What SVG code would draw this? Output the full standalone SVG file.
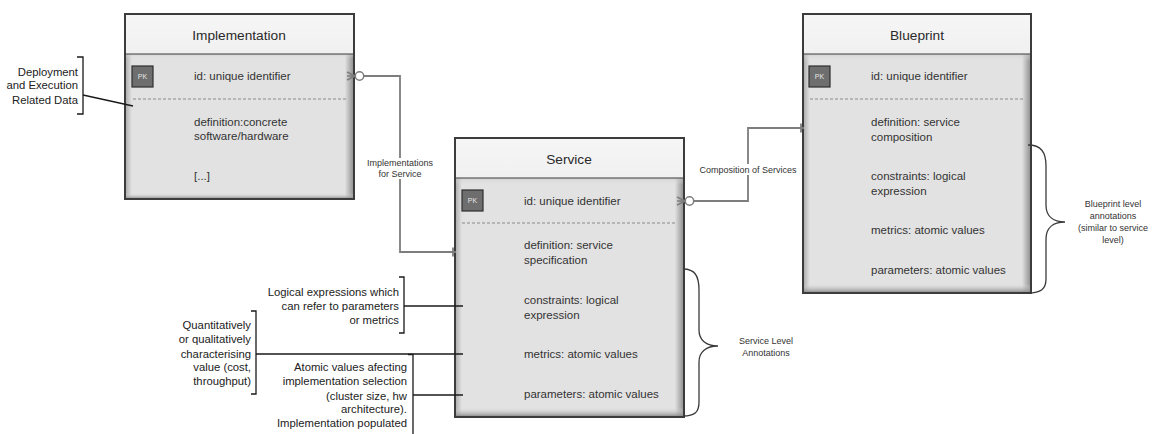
<svg xmlns="http://www.w3.org/2000/svg" width="1154" height="434" viewBox="0 0 1154 434">
  <style>
    .hdr { fill: url(#hdrGrad); }
    .body { fill: url(#bodyH); }
    .bodyV { fill: url(#bodyV); }
    .frame { fill: none; stroke: #3c3c3c; stroke-width: 2; }
    .sep { stroke: #3c3c3c; stroke-width: 1.2; }
    .dash { stroke: #8a8a8a; stroke-width: 1; stroke-dasharray: 3 2; }
    .title { font-family: "Liberation Sans", Arial, sans-serif; font-size: 13.7px; fill: #2a2a2a; text-anchor: middle; }
    .attr { font-family: "Liberation Sans", Arial, sans-serif; font-size: 11.5px; fill: #333; }
    .pk rect { fill: #6e6e6e; stroke: #2e2e2e; stroke-width: 1.2; }
    .pk text { font-family: "Liberation Sans", Arial, sans-serif; font-size: 7px; fill: #e6e6e6; text-anchor: middle; }
    .conn { fill: none; stroke: #7d7d7d; stroke-width: 1.8; }
    .clabel { font-family: "Liberation Sans", Arial, sans-serif; font-size: 9px; fill: #333; text-anchor: middle; }
    .note { font-family: "Liberation Sans", Arial, sans-serif; font-size: 11.3px; fill: #222; text-anchor: end; }
    .bracket { fill: none; stroke: #1a1a1a; stroke-width: 1.3; }
    .brace { fill: none; stroke: #3a3a3a; stroke-width: 1.3; }
    .blabel { font-family: "Liberation Sans", Arial, sans-serif; font-size: 9px; fill: #333; text-anchor: middle; }
  </style>
  <defs>
    <linearGradient id="hdrGrad" x1="0" y1="0" x2="0" y2="1">
      <stop offset="0" stop-color="#f6f6f6"/>
      <stop offset="1" stop-color="#f0f0f0"/>
    </linearGradient>
    <linearGradient id="bodyH" x1="0" y1="0" x2="1" y2="0">
      <stop offset="0" stop-color="#a8a8a8"/>
      <stop offset="0.03" stop-color="#e2e2e2"/>
      <stop offset="0.96" stop-color="#e2e2e2"/>
      <stop offset="1" stop-color="#8c8c8c"/>
    </linearGradient>
    <linearGradient id="bodyV" x1="0" y1="0" x2="0" y2="1">
      <stop offset="0" stop-color="#c8c8c8" stop-opacity="0.6"/>
      <stop offset="0.03" stop-color="#e2e2e2" stop-opacity="0"/>
      <stop offset="0.96" stop-color="#e2e2e2" stop-opacity="0"/>
      <stop offset="1" stop-color="#808080" stop-opacity="1"/>
    </linearGradient>
    <g id="crowO">
      <!-- zero-or-many end: prongs at the entity, circle beyond -->
      <path d="M0,-4 L8,0 M0,0 L8,0 M0,4 L8,0" fill="none" stroke="#7d7d7d" stroke-width="1.5"/>
      <circle cx="12.5" cy="0" r="4.2" fill="#fff" stroke="#7d7d7d" stroke-width="1.5"/>
    </g>
  </defs>

  <!-- Implementation entity -->
  <g id="implementation">
    <rect class="body" x="125" y="54" width="229" height="145"/>
    <rect class="bodyV" x="125" y="54" width="229" height="145"/>
    <rect class="hdr" x="125" y="14" width="229" height="40"/>
    <line class="sep" x1="125" y1="54" x2="354" y2="54"/>
    <rect class="frame" x="125" y="14" width="229" height="185"/>
    <text class="title" x="239" y="40">Implementation</text>
    <g class="pk"><rect x="132" y="66" width="21" height="21"/><text x="142.5" y="79">PK</text></g>
    <text class="attr" x="194" y="80">id: unique identifier</text>
    <line class="dash" x1="133" y1="99" x2="347" y2="99"/>
    <text class="attr" x="194" y="126">definition:concrete</text>
    <text class="attr" x="194" y="140">software/hardware</text>
    <text class="attr" x="194" y="180">[...]</text>
  </g>

  <!-- Service entity -->
  <g id="service">
    <rect class="body" x="455" y="178" width="229" height="239"/>
    <rect class="bodyV" x="455" y="178" width="229" height="239"/>
    <rect class="hdr" x="455" y="138" width="229" height="40"/>
    <line class="sep" x1="455" y1="178" x2="684" y2="178"/>
    <rect class="frame" x="455" y="138" width="229" height="279"/>
    <text class="title" x="569" y="164">Service</text>
    <g class="pk"><rect x="462" y="190" width="21" height="21"/><text x="472.5" y="203">PK</text></g>
    <text class="attr" x="524" y="205">id: unique identifier</text>
    <line class="dash" x1="462" y1="223" x2="677" y2="223"/>
    <text class="attr" x="524" y="249">definition: service</text>
    <text class="attr" x="524" y="264">specification</text>
    <text class="attr" x="524" y="304">constraints: logical</text>
    <text class="attr" x="524" y="319">expression</text>
    <text class="attr" x="524" y="358">metrics: atomic values</text>
    <text class="attr" x="524" y="398">parameters: atomic values</text>
  </g>

  <!-- Blueprint entity -->
  <g id="blueprint">
    <rect class="body" x="803" y="54" width="228" height="239"/>
    <rect class="bodyV" x="803" y="54" width="228" height="239"/>
    <rect class="hdr" x="803" y="14" width="228" height="40"/>
    <line class="sep" x1="803" y1="54" x2="1031" y2="54"/>
    <rect class="frame" x="803" y="14" width="228" height="279"/>
    <text class="title" x="917" y="40">Blueprint</text>
    <g class="pk"><rect x="809" y="66" width="21" height="21"/><text x="819.5" y="79">PK</text></g>
    <text class="attr" x="871" y="80">id: unique identifier</text>
    <line class="dash" x1="810" y1="99" x2="1024" y2="99"/>
    <text class="attr" x="871" y="126">definition: service</text>
    <text class="attr" x="871" y="141">composition</text>
    <text class="attr" x="871" y="180">constraints: logical</text>
    <text class="attr" x="871" y="195">expression</text>
    <text class="attr" x="871" y="234">metrics: atomic values</text>
    <text class="attr" x="871" y="274">parameters: atomic values</text>
  </g>

  <!-- Relationships between entities -->
  <g id="connectors">
    <!-- Implementation (many) to Service (one) -->
    <polyline class="conn" points="364,76 400,76 400,252 456,252"/>
    <use href="#crowO" x="347" y="76"/>
    <line x1="453" y1="247.5" x2="453" y2="256.5" stroke="#7d7d7d" stroke-width="1.8"/>
    <rect x="365" y="158" width="70" height="21" fill="#fff"/>
    <text class="clabel" x="400" y="166">Implementations</text>
    <text class="clabel" x="400" y="177">for Service</text>

    <!-- Service (many) to Blueprint (one) -->
    <polyline class="conn" points="694,201 748,201 748,128 804,128"/>
    <use href="#crowO" x="677" y="201"/>
    <line x1="801" y1="123.5" x2="801" y2="132.5" stroke="#7d7d7d" stroke-width="1.8"/>
    <rect x="697" y="164" width="102" height="11" fill="#fff"/>
    <text class="clabel" x="748" y="173">Composition of Services</text>
  </g>

  <!-- Side notes -->
  <g id="note-deployment">
    <text class="note" x="78" y="76">Deployment</text>
    <text class="note" x="78" y="89">and Execution</text>
    <text class="note" x="78" y="104">Related Data</text>
    <polyline class="bracket" points="77,57 83,57 83,114 77,114"/>
    <line class="bracket" x1="83" y1="95" x2="133" y2="106"/>
  </g>

  <g id="note-constraints">
    <text class="note" x="399" y="296">Logical expressions which</text>
    <text class="note" x="399" y="310">can refer to parameters</text>
    <text class="note" x="399" y="324">or metrics</text>
    <polyline class="bracket" points="399,277 404,277 404,333 399,333"/>
    <line class="bracket" x1="404" y1="306" x2="463" y2="306"/>
  </g>

  <g id="note-metrics">
    <text class="note" x="251" y="329">Quantitatively</text>
    <text class="note" x="251" y="343">or qualitatively</text>
    <text class="note" x="251" y="358">characterising</text>
    <text class="note" x="251" y="371">value (cost,</text>
    <text class="note" x="251" y="385">throughput)</text>
    <polyline class="bracket" points="251,311 256,311 256,394 251,394"/>
    <line class="bracket" x1="256" y1="354" x2="463" y2="354"/>
  </g>

  <g id="note-parameters">
    <text class="note" x="407" y="371">Atomic values afecting</text>
    <text class="note" x="407" y="385">implementation selection</text>
    <text class="note" x="407" y="400">(cluster size, hw</text>
    <text class="note" x="407" y="413">architecture).</text>
    <text class="note" x="407" y="427">Implementation populated</text>
    <polyline class="bracket" points="408,354.5 413,354.5 413,434"/>
    <line class="bracket" x1="413" y1="395" x2="463" y2="395"/>
  </g>

  <!-- Annotation braces -->
  <g id="brace-service">
    <path class="brace" d="M683,269 C695,269 699,276 699,290 L699,330 C699,340 706,346 718,346 C706,346 699,352 699,362 L699,402 C699,412 695,416 683,416"/>
    <text class="blabel" x="766" y="344">Service Level</text>
    <text class="blabel" x="766" y="356">Annotations</text>
  </g>

  <g id="brace-blueprint">
    <path class="brace" d="M1028,145 C1041,145 1046,152 1046,166 L1046,205 C1046,216 1053,222 1065,222 C1053,222 1046,228 1046,239 L1046,279 C1046,289 1041,293 1028,293"/>
    <text class="blabel" x="1113" y="207">Blueprint level</text>
    <text class="blabel" x="1113" y="219">annotations</text>
    <text class="blabel" x="1113" y="231">(similar to service</text>
    <text class="blabel" x="1113" y="243">level)</text>
  </g>
</svg>
